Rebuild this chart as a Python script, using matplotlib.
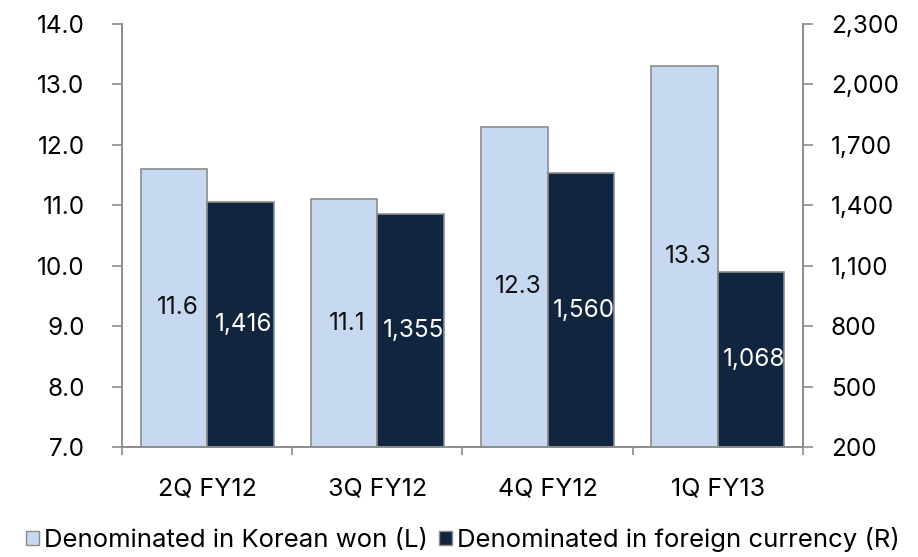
import numpy as np
import matplotlib.pyplot as plt
from matplotlib.patches import Patch

# quarters and the two series
quarters = ["2Q FY12", "3Q FY12", "4Q FY12", "1Q FY13"]
won_values = [11.6, 11.1, 12.3, 13.3]          # left axis
foreign_values = [1416, 1355, 1560, 1068]      # right axis
won_labels = ["11.6", "11.1", "12.3", "13.3"]
foreign_labels = ["1,416", "1,355", "1,560", "1,068"]

light = "#C6D9F1"
dark = "#12253F"
grey = "#8C8C8C"

plt.rcParams["font.family"] = ["Inter", "DejaVu Sans"]

fig = plt.figure(figsize=(9.18, 5.57), dpi=100)
ax = fig.add_axes([0.1329, 0.1975, 0.7418, 0.7595])
ax2 = ax.twinx()

x = np.arange(len(quarters))
w = 0.39

ax.bar(x - w / 2, np.array(won_values) - 7.0, w, bottom=7.0, color=light,
       edgecolor=grey, linewidth=1.2, zorder=2)
ax2.bar(x + w / 2, np.array(foreign_values) - 200, w, bottom=200, color=dark,
        edgecolor=grey, linewidth=1.2, zorder=2)

for i in range(len(quarters)):
    ax.text(x[i] - w / 2 + 0.02, (won_values[i] + 7.0) / 2, won_labels[i],
            ha="center", va="center", fontsize=17.5, color="#111111")
    ax2.text(x[i] + w / 2 + 0.02, (foreign_values[i] + 200) / 2, foreign_labels[i],
             ha="center", va="center", fontsize=17.5, color="white")

ax.set_xlim(-0.5, 3.5)
ax.set_ylim(7.0, 14.0)
ax2.set_ylim(200, 2300)
ax.set_yticks(np.arange(7.0, 14.01, 1.0))
ax.set_yticklabels([f"{v:.1f}" for v in np.arange(7.0, 14.01, 1.0)])
ax2.set_yticks(np.arange(200, 2301, 300))
ax2.set_yticklabels([f"{v:,}" for v in range(200, 2301, 300)])

# category ticks at the boundaries, labels at centres
ax.set_xticks(np.arange(-0.5, 3.6, 1.0))
ax.set_xticklabels([])
ax.set_xticks(x, minor=True)
ax.set_xticklabels(quarters, minor=True)
ax.tick_params(axis="x", which="minor", length=0, pad=22, labelsize=18)
ax.tick_params(axis="x", which="major", length=6, color=grey, width=1.2)

for a in (ax, ax2):
    a.spines["top"].set_visible(False)
    for s in ("left", "right", "bottom"):
        a.spines[s].set_color(grey)
        a.spines[s].set_linewidth(1.2)
ax.tick_params(axis="y", length=7, color=grey, width=1.2, labelsize=17.5, pad=20)
ax2.tick_params(axis="y", length=7, color=grey, width=1.2, labelsize=17.5, pad=13)

handles = [Patch(facecolor=light, edgecolor=grey, label="Denominated in Korean won (L)"),
           Patch(facecolor=dark, edgecolor=grey, label="Denominated in foreign currency (R)")]
fig.legend(handles=handles, loc="lower left", bbox_to_anchor=(0.026, 0.004), ncol=2,
           frameon=False, fontsize=18.5, handlelength=0.48, handleheight=0.48,
           handletextpad=0.2, columnspacing=0.45, borderaxespad=0.0, borderpad=0.1)

fig.savefig("out.png", dpi=100)
